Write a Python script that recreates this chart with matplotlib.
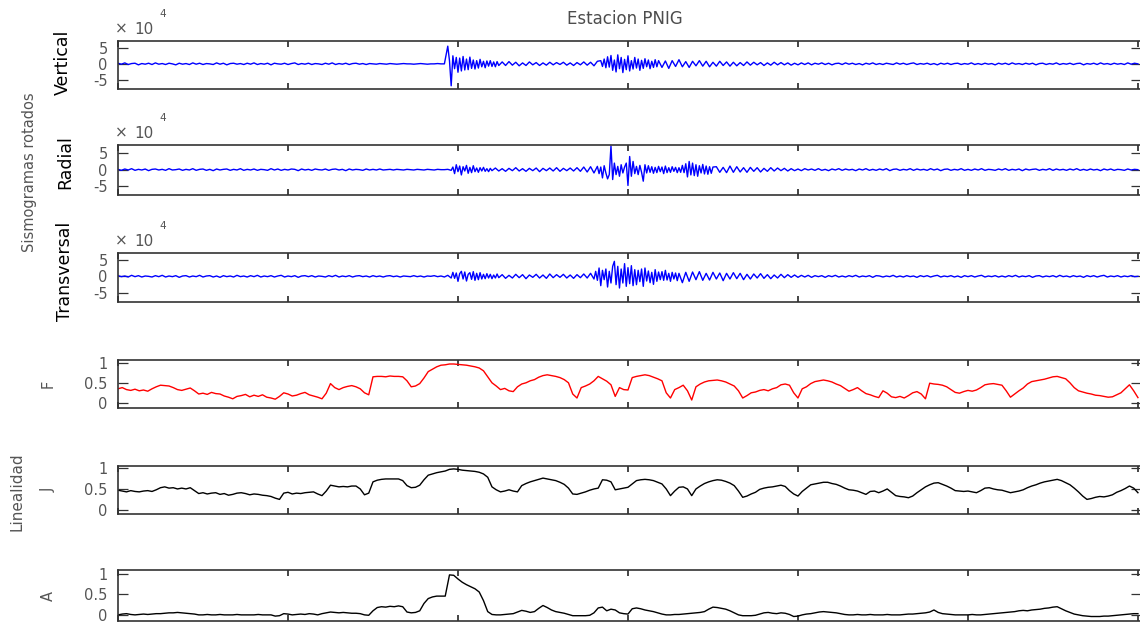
import numpy as np
import matplotlib
matplotlib.use("Agg")
import matplotlib.pyplot as plt
from matplotlib.ticker import FixedLocator, FuncFormatter

plt.rcParams['font.family'] = ['DejaVu Sans']
plt.rcParams['axes.unicode_minus'] = False

# ---------------- data ----------------
duration = 60.0          # s
x_ticks = [0, 10, 20, 30, 40, 50, 60]
seis_scale = 1e4         # seismogram values below are in units of 1e4 counts
seis_ticks = [-5, 0, 5]
index_ticks = [0, 0.5, 1]
index_ticklabels = ['0', '0.5', '1']

# Seismograms: segments of (start time [s], sample step [s], values x1e4)
vertical_segments = [
    (0.0, 0.2, [
        0.2,-0.1,0.3,-0.2,0.1,0.2,-0.3,0.1,-0.1,0.2,-0.2,0.3,-0.1,0.1,-0.2,0.2,0.0,-0.3,0.2,-0.1,
        0.1,-0.2,0.3,-0.1,0.2,-0.2,0.1,0.0,-0.2,0.3,-0.1,0.2,-0.3,0.1,0.2,-0.1,0.1,-0.2,0.2,-0.1,
        0.3,-0.2,0.1,-0.1,0.2,-0.3,0.2,0.0,-0.1,0.2,-0.2,0.1,0.3,-0.2,0.1,-0.1,0.2,-0.2,0.1,0.0,
        -0.2,0.2,-0.1,0.3,-0.2,0.1,-0.1,0.2,-0.2,0.1,0.2,-0.1,0.1,-0.2,0.1,0.0,-0.1,0.1,0.0,-0.1,
        0.1,0.0,-0.1,0.0,0.1,0.0,0.0,-0.1,0.0,0.1,0.0,-0.1,0.0,0.0,0.1,0.0,0.0]),
    (19.4, 0.1, [
        5.5,1.0,-6.8,2.5,-1.5,2.0,-2.6,1.8,-2.2,2.3,-1.9,1.5,-1.8,2.1,-1.4,1.2,-1.6,1.0,-1.3,1.4,
        -0.9,0.8,-1.2,0.9,-0.7,1.0,-0.8,0.6,-0.9,0.7,-0.5]),
    (22.6, 0.2, [
        0.6,-0.5,0.7,-0.4,0.5,-0.6,0.3,-0.5,0.6,-0.3,0.4,-0.5,0.3,-0.4,0.5,-0.3,0.4,-0.2,0.5,-0.4,
        0.3,-0.5,0.4,-0.3,0.6,-0.4,0.5,-0.6,0.8]),
    (28.4, 0.1, [
        1.0,-0.8,1.5,-1.2,2.2,-1.0,2.6,-2.0,1.2,-2.5,2.8,-1.5,2.0,-2.7,1.4,-1.8,2.5,-2.2,1.0,-1.6,
        2.0,-1.3,1.5,-2.0,1.1,-1.4,1.6,-0.9,1.2,-1.5,0.8,-1.1,1.3,-0.9,1.0]),
    (32.0, 0.2, [
        -1.1,0.9,-1.4,1.0,-0.8,1.3,-0.9,0.7,-1.1,0.8,-0.6,1.0,-0.7,0.8,-0.9,0.5,-0.7,0.8,-0.5,0.6,
        -0.7,0.5,-0.6,0.4,-0.5,0.6,-0.4,0.5,-0.3,0.4,-0.5,0.3,-0.4,0.5,-0.3,0.4,-0.3,0.3,-0.4,0.2,
        -0.3,0.3,-0.2,0.3,-0.3,0.2,-0.1,0.3,-0.2,0.2,-0.3,0.1,0.2,-0.2,0.3,-0.1,0.2,-0.2,0.1,-0.3,
        0.2,-0.1,0.3,-0.2,0.1,-0.2,0.2,0.0,-0.2,0.3,-0.1,0.2,-0.2,0.1,0.3,-0.2,0.1,-0.1,0.2,-0.2,
        0.1,-0.3,0.2,-0.1,0.2,-0.2,0.1,0.2,-0.2,0.1,-0.1,0.3,-0.2,0.1,-0.2,0.2,-0.1,0.1,-0.3,0.2,
        -0.1,0.2,-0.2,0.3,-0.1,0.1,-0.2,0.2,-0.1,0.2,-0.3,0.1,0.2,-0.2,0.1,-0.1,0.3,-0.2,0.1,-0.1,
        0.2,-0.2,0.1,0.2,-0.3,0.1,-0.1,0.2,-0.2,0.3,-0.1,0.1,-0.2,0.2,-0.1,0.1,-0.2,0.3,-0.1,0.2,0.0]),
]

radial_segments = [
    (0.0, 0.2, [
        0.1,-0.2,0.2,-0.1,0.3,-0.2,0.1,-0.1,0.2,-0.3,0.1,0.2,-0.1,0.1,-0.2,0.3,-0.1,0.0,0.2,-0.2,
        0.1,-0.1,0.3,-0.2,0.1,0.2,-0.2,0.1,-0.3,0.2,-0.1,0.1,0.2,-0.2,0.1,-0.1,0.3,-0.2,0.1,-0.1,
        0.2,-0.2,0.1,0.0,-0.2,0.3,-0.1,0.2,-0.2,0.1,-0.1,0.2,0.1,-0.3,0.2,-0.1,0.1,-0.2,0.2,0.0,
        -0.1,0.2,-0.2,0.1,0.2,-0.1,0.1,-0.3,0.2,-0.1,0.1,0.0,-0.2,0.2,-0.1,0.1,-0.1,0.2,-0.1,0.0,
        0.1,-0.1,0.1,0.0,-0.1,0.1,0.0,-0.1,0.1,0.0,-0.1,0.1,0.0,-0.1,0.1,0.0,0.0,0.1]),
    (19.6, 0.1, [
        -0.2,0.8,-1.2,1.5,-0.6,1.1,-1.6,0.9,-0.4,1.3,-1.1,0.7,-0.9,1.2,-0.6,0.5,-0.8,0.6,-0.4,0.7,
        -0.5,0.3,-0.6,0.4,-0.3]),
    (22.2, 0.2, [
        0.5,-0.4,0.3,-0.5,0.4,-0.3,0.6,-0.4,0.3,-0.5,0.4,-0.3,0.5,-0.6,0.4,-0.3,0.5,-0.4,0.6,-0.5,
        0.4,-0.3,0.5,-0.4,0.6,-0.5,0.8,-0.7,0.9,-1.0]),
    (28.2, 0.1, [
        1.0,-1.2,0.8,-2.5,1.2,-1.0,-2.8,-1.5,7.2,-3.0,2.0,-1.5,1.0,-2.0,1.5,-1.0,0.8,2.0,-4.8,4.0,
        -2.0,2.5,-1.2,1.0,-1.5,1.3,-0.8,-3.5,1.5,-1.0,1.2,-0.8,0.9,-1.1,0.7,-0.9,1.0,-0.6,0.8,-1.2,
        1.1,-0.9,0.6,-0.8,0.9,-0.5,0.7,-0.9,0.6,-0.8,1.3,-0.9,1.8,-2.2,2.5,-1.6,2.0,-1.8,1.5,-2.0,
        1.2,-1.0,1.6,-1.3,1.1,-1.4,0.9,-1.1,0.8]),
    (35.2, 0.2, [
        0.9,-0.8,0.7,-0.9,
        1.1,-0.8,0.9,-0.7,0.6,-0.8,0.7,-0.5,0.6,-0.7,0.4,-0.5,0.6,-0.4,0.5,-0.3,0.4,-0.4,0.3,-0.3,
        0.2,-0.3,0.3,-0.1,0.2,-0.2,0.3,-0.2,0.1,-0.3,0.2,-0.1,0.3,-0.2,0.2,-0.1,0.1,-0.3,0.2,-0.1,
        0.3,-0.2,0.1,-0.2,0.2,-0.1,0.3,-0.3,0.1,0.2,-0.2,0.1,-0.1,0.3,-0.2,0.2,-0.1,0.1,-0.2,0.3,
        -0.1,0.2,-0.3,0.1,0.2,-0.2,0.1,-0.1,0.3,-0.2,0.1,-0.2,0.2,-0.1,0.3,-0.2,0.1,0.0,-0.2,0.2,
        -0.1,0.3,-0.2,0.1,-0.1,0.2,-0.3,0.2,-0.1,0.1,0.2,-0.2,0.1,-0.1,0.3,-0.2,0.2,-0.1,0.1,-0.2,
        0.2,-0.1,0.3,-0.2,0.1,-0.2,0.2,-0.1,0.1,-0.3,0.2,-0.1,0.2,-0.2,0.1,0.0,-0.2,0.2,-0.1,0.1,0.0]),
]

transversal_segments = [
    (0.0, 0.2, [
        0.2,-0.1,0.1,-0.2,0.3,-0.1,0.2,-0.2,0.1,0.0,-0.2,0.2,-0.1,0.3,-0.2,0.1,-0.1,0.2,-0.3,0.1,
        0.2,-0.2,0.1,-0.1,0.3,-0.2,0.1,0.2,-0.2,0.1,-0.3,0.2,-0.1,0.1,-0.2,0.3,-0.1,0.1,-0.2,0.2,
        -0.1,0.3,-0.2,0.1,-0.1,0.2,-0.2,0.1,0.3,-0.2,0.1,-0.1,0.2,-0.3,0.1,0.2,-0.1,0.2,-0.2,0.1,
        0.0,-0.2,0.2,-0.1,0.3,-0.2,0.1,-0.1,0.2,-0.2,0.1,0.2,-0.1,0.1,-0.2,0.2,-0.1,0.1,-0.2,0.1,
        0.2,-0.1,0.1,-0.2,0.1,0.0,-0.1,0.2,-0.1,0.1,-0.2,0.1,0.0,0.2,-0.1,0.1,-0.2,0.3]),
    (19.6, 0.1, [
        -0.5,1.2,-0.6,1.0,-1.5,0.8,1.5,-0.8,1.3,-1.4,0.6,1.1,-0.9,1.4,-1.2,0.9,-1.0,1.1,-0.8,0.6,
        -0.7,0.8,-0.5,0.6,-0.7,0.4,-0.5,0.7,-0.4]),
    (22.6, 0.2, [
        0.5,-0.6,0.3,-0.5,0.6,-0.4,0.5,-0.7,0.4,-0.3,0.6,-0.5,0.4,-0.6,0.7,-0.4,0.5,-0.3,0.6,-0.5,
        0.4,-0.6,0.5,-0.4,0.7,-0.5,0.9]),
    (28.0, 0.1, [
        -0.8,1.5,-1.2,2.5,-2.8,1.8,-1.0,2.2,-3.2,1.5,-2.0,3.0,4.5,-2.5,3.0,-3.5,2.2,-2.0,3.8,-3.0,
        2.6,-2.2,3.2,-2.8,2.0,-2.5,1.8,-1.6,2.2,-3.0,2.5,-1.4,1.6,-1.9,1.2,-2.4,2.0,-1.5,1.3,-1.0,
        1.4,-1.2,1.8,-1.1,0.9,-1.5,1.2,-0.8,1.0,-1.3,0.9]),
    (33.2, 0.2, [
        -1.9,1.2,-1.5,1.3,-1.0,1.4,-1.2,0.9,-1.1,1.2,-0.8,1.0,-1.3,0.9,
        -0.8,1.1,-0.7,0.9,-1.0,0.6,-0.8,0.7,-0.5,0.8,-0.6,0.5,-0.7,0.4,-0.5,0.6,-0.4,0.5,-0.3,0.4,
        -0.3,0.3,-0.2,0.3,-0.3,0.2,-0.1,0.2,-0.3,0.2,-0.1,0.3,-0.2,0.1,-0.2,0.2,-0.1,0.3,-0.2,0.1,
        -0.1,0.2,-0.3,0.2,0.1,-0.2,0.1,-0.1,0.3,-0.2,0.1,-0.2,0.2,-0.1,0.1,-0.3,0.2,-0.1,0.2,-0.2,
        0.1,0.3,-0.2,0.1,-0.1,0.2,-0.2,0.1,-0.3,0.2,-0.1,0.2,-0.2,0.1,0.3,-0.2,0.1,-0.1,0.2,-0.2,
        0.1,-0.2,0.2,-0.1,0.3,-0.2,0.1,-0.1,0.2,-0.3,0.1,0.2,-0.2,0.1,-0.1,0.2,-0.2,0.3,-0.1,0.1,
        -0.2,0.2,-0.1,0.1,-0.3,0.2,-0.1,0.2,-0.2,0.1,0.3,-0.2,0.1,-0.1,0.2,-0.2,0.1,-0.1,0.2,-0.1,0.0]),
]

# Polarization indices sampled every 0.25 s
F_vals = [
    0.35,0.38,0.33,0.31,0.34,0.30,0.32,0.29,0.35,0.40,0.44,0.43,0.42,0.38,0.33,0.31,0.34,0.37,0.30,0.22,
    0.24,0.21,0.26,0.23,0.22,0.17,0.14,0.10,0.16,0.18,0.21,0.15,0.19,0.16,0.20,0.14,0.12,0.09,0.16,0.25,
    0.22,0.17,0.19,0.23,0.26,0.20,0.17,0.14,0.10,0.24,0.48,0.38,0.33,0.38,0.41,0.43,0.40,0.35,0.25,0.20,
    0.65,0.66,0.66,0.65,0.67,0.66,0.66,0.65,0.55,0.40,0.42,0.48,0.62,0.78,0.84,0.90,0.94,0.95,0.97,0.97,
    0.96,0.95,0.94,0.92,0.90,0.87,0.80,0.65,0.50,0.42,0.33,0.36,0.30,0.28,0.40,0.47,0.50,0.55,0.58,0.64,
    0.68,0.70,0.68,0.66,0.63,0.58,0.50,0.22,0.12,0.38,0.42,0.47,0.55,0.66,0.60,0.54,0.45,0.16,0.38,0.33,
    0.32,0.63,0.66,0.68,0.70,0.68,0.64,0.60,0.55,0.25,0.12,0.33,0.38,0.44,0.30,0.07,0.40,0.47,0.52,0.55,
    0.56,0.57,0.55,0.52,0.47,0.42,0.30,0.12,0.18,0.25,0.27,0.31,0.33,0.30,0.35,0.38,0.45,0.47,0.44,0.25,
    0.12,0.35,0.40,0.48,0.53,0.55,0.57,0.55,0.52,0.47,0.43,0.36,0.29,0.33,0.38,0.30,0.23,0.20,0.16,0.13,
    0.30,0.24,0.15,0.13,0.16,0.12,0.18,0.25,0.28,0.22,0.10,0.49,0.47,0.46,0.44,0.40,0.33,0.26,0.24,0.28,
    0.31,0.29,0.32,0.38,0.45,0.47,0.48,0.46,0.44,0.30,0.14,0.22,0.30,0.37,0.47,0.53,0.55,0.57,0.59,0.62,
    0.65,0.66,0.63,0.60,0.50,0.38,0.30,0.27,0.24,0.22,0.19,0.18,0.16,0.14,0.15,0.20,0.25,0.35,0.45,0.30,0.13,
]

J_vals = [
    0.47,0.45,0.43,0.46,0.44,0.43,0.45,0.46,0.44,0.48,0.53,0.55,0.52,0.53,0.50,0.52,0.50,0.53,0.46,0.39,
    0.41,0.38,0.40,0.41,0.37,0.39,0.35,0.37,0.40,0.41,0.39,0.36,0.38,0.37,0.35,0.34,0.32,0.28,0.25,0.40,
    0.42,0.38,0.40,0.39,0.41,0.42,0.43,0.38,0.34,0.45,0.59,0.57,0.55,0.56,0.55,0.57,0.57,0.50,0.36,0.40,
    0.67,0.71,0.73,0.74,0.74,0.74,0.74,0.70,0.58,0.53,0.54,0.59,0.72,0.83,0.86,0.89,0.91,0.93,0.97,0.98,
    0.97,0.95,0.94,0.93,0.92,0.90,0.86,0.78,0.55,0.48,0.43,0.45,0.48,0.45,0.43,0.58,0.63,0.67,0.70,0.73,
    0.76,0.74,0.72,0.70,0.66,0.61,0.52,0.38,0.37,0.40,0.43,0.47,0.50,0.52,0.72,0.71,0.67,0.48,0.50,0.52,
    0.54,0.62,0.70,0.72,0.73,0.72,0.70,0.66,0.62,0.50,0.34,0.45,0.54,0.55,0.50,0.34,0.50,0.57,0.63,0.67,
    0.70,0.72,0.71,0.68,0.64,0.58,0.45,0.30,0.33,0.38,0.42,0.49,0.52,0.54,0.55,0.57,0.59,0.56,0.46,0.38,
    0.33,0.44,0.52,0.60,0.62,0.64,0.66,0.66,0.63,0.61,0.57,0.52,0.48,0.47,0.45,0.41,0.37,0.44,0.45,0.41,
    0.45,0.50,0.42,0.34,0.32,0.31,0.29,0.33,0.41,0.48,0.55,0.60,0.64,0.65,0.61,0.57,0.52,0.46,0.45,0.44,
    0.45,0.43,0.41,0.46,0.52,0.53,0.50,0.48,0.47,0.44,0.41,0.43,0.45,0.48,0.53,0.57,0.60,0.64,0.67,0.69,
    0.71,0.73,0.70,0.65,0.60,0.52,0.43,0.33,0.25,0.27,0.30,0.32,0.31,0.33,0.36,0.42,0.46,0.51,0.57,0.52,0.41,
]

A_vals = [
    0.00,0.02,0.03,0.01,0.00,0.01,0.02,0.01,0.02,0.03,0.03,0.04,0.05,0.05,0.06,0.05,0.04,0.03,0.02,0.00,
    0.00,0.01,0.00,0.00,0.01,0.00,0.00,0.00,0.01,0.00,0.00,0.00,0.00,0.01,0.00,0.00,0.00,-0.03,-0.02,0.03,
    0.02,0.00,0.01,0.02,0.01,0.03,0.02,0.00,0.03,0.05,0.07,0.06,0.05,0.06,0.05,0.04,0.04,0.03,0.00,-0.01,
    0.10,0.18,0.20,0.19,0.21,0.20,0.22,0.20,0.07,0.05,0.06,0.10,0.28,0.40,0.44,0.46,0.46,0.46,0.98,0.97,
    0.88,0.80,0.74,0.69,0.64,0.56,0.35,0.08,0.01,0.00,0.00,0.01,0.02,0.03,0.07,0.11,0.09,0.06,0.08,0.16,
    0.23,0.18,0.12,0.08,0.06,0.04,0.01,-0.02,-0.02,-0.02,-0.02,-0.01,0.05,0.17,0.19,0.10,0.14,0.12,0.05,0.03,
    0.02,0.15,0.17,0.15,0.12,0.10,0.08,0.05,0.02,0.00,0.00,0.01,0.01,0.02,0.03,0.04,0.05,0.06,0.08,0.14,
    0.19,0.18,0.16,0.14,0.10,0.05,0.00,-0.02,-0.02,-0.02,-0.01,0.02,0.05,0.06,0.04,0.03,0.05,0.04,0.01,-0.04,
    -0.03,0.00,0.02,0.03,0.05,0.07,0.08,0.07,0.06,0.05,0.03,0.01,0.00,0.00,0.01,0.00,0.00,0.01,0.00,0.00,
    0.00,0.01,0.00,0.00,0.00,0.01,0.02,0.02,0.03,0.04,0.05,0.07,0.12,0.06,0.03,0.02,0.01,0.00,0.00,0.00,
    0.00,0.01,0.00,0.00,0.01,0.02,0.03,0.04,0.05,0.06,0.07,0.08,0.10,0.11,0.10,0.12,0.13,0.14,0.16,0.17,
    0.19,0.20,0.15,0.10,0.06,0.02,0.00,-0.02,-0.03,-0.04,-0.04,-0.04,-0.03,-0.03,-0.02,-0.01,0.00,0.01,0.02,0.03,0.03,
]

seis_names = ['Vertical', 'Radial', 'Transversal']
index_names = ['F', 'J', 'A']

# ---------------- layout ----------------
W, H = 1140, 624
fig = plt.figure(figsize=(W / 100, H / 100), dpi=100)

def fx(x):
    return x / W

def fy(y):
    return 1 - y / H

left_px, right_px = 118, 1141
boxes = [(41, 89), (145, 195), (253, 302), (360, 408), (466, 514), (570, 621)]
xmax = 60.18

spine_c = '#333333'
tick_c = '#555555'

axes = []
for (top, bot) in boxes:
    ax = fig.add_axes([fx(left_px), fy(bot), fx(right_px - left_px), (bot - top) / H])
    ax.set_xlim(0, xmax)
    ax.xaxis.set_major_locator(FixedLocator(x_ticks))
    ax.tick_params(axis='x', direction='in', length=4.5, width=1.4, top=True, bottom=True,
                   labelbottom=False, color='#444444')
    ax.tick_params(axis='y', direction='in', length=7.5, width=0.9, left=True, right=True,
                   labelsize=10.5, labelcolor=tick_c, pad=7.5, color='#333333')
    for s in ax.spines.values():
        s.set_color(spine_c)
        s.set_linewidth(1.2)
    axes.append(ax)


def build(segments):
    ts, vs = [], []
    for t0, dt, vals in segments:
        ts.append(t0 + dt * np.arange(len(vals)))
        vs.append(np.array(vals))
    return np.concatenate(ts), np.concatenate(vs) * seis_scale


seis_data = [vertical_segments, radial_segments, transversal_segments]
seis_ylims = [(-7.8, 7.1), (-7.7, 7.5), (-7.7, 7.0)]
for ax, segs, yl in zip(axes[:3], seis_data, seis_ylims):
    t, v = build(segs)
    ax.plot(t, v, color='#0000ff', lw=1.0)
    ax.set_ylim(yl[0] * seis_scale, yl[1] * seis_scale)
    ax.yaxis.set_major_locator(FixedLocator([s * seis_scale for s in seis_ticks]))
    ax.yaxis.set_major_formatter(FuncFormatter(lambda val, pos: '%d' % round(val / seis_scale)))

index_data = [F_vals, J_vals, A_vals]
index_colors = ['#ff0000', '#000000', '#000000']
index_ylims = [(-0.13, 1.07), (-0.10, 1.05), (-0.15, 1.10)]
for ax, vals, c, yl in zip(axes[3:], index_data, index_colors, index_ylims):
    v = np.array(vals)
    t = np.linspace(0, duration, len(v))
    ax.plot(t, v, color=c, lw=1.0)
    ax.set_ylim(*yl)
    ax.yaxis.set_major_locator(FixedLocator(index_ticks))
    ax.set_yticklabels(index_ticklabels)

# ---------------- texts ----------------
fig.text(fx(625), fy(19), 'Estacion PNIG', ha='center', va='center', fontsize=12, color='#4d4d4d')

seis_label_pos = [(63, 62), (65, 162), (65, 271)]
for name, (x, y) in zip(seis_names, seis_label_pos):
    fig.text(fx(x), fy(y), name, rotation=90, ha='center', va='center', fontsize=12.5, color='black')

index_label_pos = [(48, 384), (48, 490), (48, 596)]
for name, (x, y) in zip(index_names, index_label_pos):
    fig.text(fx(x), fy(y), name, rotation=90, ha='center', va='center', fontsize=10.5, color=tick_c)

fig.text(fx(30), fy(172), 'Sismogramas rotados', rotation=90, ha='center', va='center',
         fontsize=10.5, color='#555555')
fig.text(fx(17), fy(492), 'Linealidad', rotation=90, ha='center', va='center',
         fontsize=11, color='#555555')

for (top, bot) in boxes[:3]:
    fig.text(fx(115), fy(top - 12), '\u00d7', ha='left', va='center', fontsize=11, color=tick_c)
    fig.text(fx(134), fy(top - 12), '10', ha='left', va='center', fontsize=11, color=tick_c)
    fig.text(fx(159), fy(top - 27), '4', ha='left', va='center', fontsize=7.5, color=tick_c)

fig.savefig('out.png', dpi=100)
